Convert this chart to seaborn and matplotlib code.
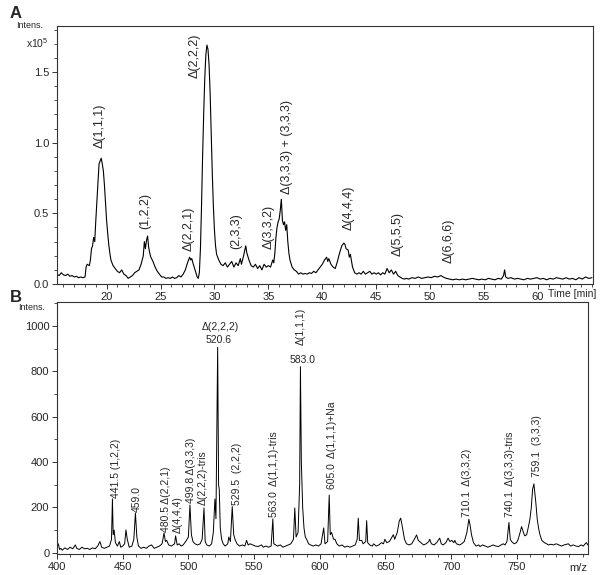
import matplotlib
matplotlib.use("Agg")
import matplotlib.pyplot as plt
from matplotlib.ticker import MultipleLocator
import numpy as np
import pandas as pd
import seaborn as sns

# Panel A: chromatogram (time in min, intensity in 1e5)
time_min = [
    15.4, 15.6, 15.8, 16.0, 16.2, 16.4, 16.6, 16.8, 17.0, 17.2, 17.4, 17.6, 17.8, 18.0,
    18.1, 18.2, 18.4, 18.5, 18.6, 18.7, 18.8, 18.9, 19.0, 19.1, 19.2, 19.3, 19.4, 19.5,
    19.6, 19.7, 19.8, 19.9, 20.0, 20.1, 20.2, 20.3, 20.4, 20.5, 20.6, 20.8, 21.0, 21.2,
    21.4, 21.6, 21.8, 22.0, 22.2, 22.4, 22.6, 22.8, 23.0, 23.2, 23.4, 23.5, 23.6, 23.7,
    23.8, 23.9, 24.0, 24.1, 24.3, 24.5, 24.7, 24.9, 25.1, 25.3, 25.5, 25.7, 25.9, 26.1,
    26.3, 26.5, 26.7, 26.9, 27.1, 27.3, 27.5, 27.7, 27.8, 27.9, 28.0, 28.2, 28.4, 28.5,
    28.6, 28.7, 28.8, 28.9, 29.0, 29.1, 29.2, 29.3, 29.4, 29.5, 29.6, 29.7, 29.8, 29.9,
    30.0, 30.1, 30.2, 30.4, 30.6, 30.8, 31.0, 31.2, 31.4, 31.6, 31.8, 32.0, 32.2, 32.4,
    32.5, 32.7, 32.9, 33.0, 33.2, 33.4, 33.6, 33.8, 34.0, 34.2, 34.4, 34.6, 34.8, 35.0,
    35.2, 35.4, 35.5, 35.6, 35.7, 35.8, 35.9, 36.0, 36.1, 36.2, 36.3, 36.4, 36.5, 36.6,
    36.7, 36.8, 36.9, 37.0, 37.2, 37.4, 37.6, 37.8, 38.0, 38.2, 38.4, 38.6, 38.8, 39.0,
    39.2, 39.4, 39.6, 39.8, 40.0, 40.2, 40.4, 40.5, 40.6, 40.8, 41.0, 41.2, 41.4, 41.6,
    41.8, 42.0, 42.1, 42.2, 42.4, 42.5, 42.6, 42.8, 43.0, 43.2, 43.4, 43.6, 43.8, 44.0,
    44.2, 44.4, 44.6, 44.8, 45.0, 45.2, 45.4, 45.6, 45.8, 46.0, 46.2, 46.4, 46.6, 46.8,
    47.0, 47.2, 47.4, 47.6, 47.8, 48.0, 48.3, 48.6, 48.9, 49.2, 49.5, 49.8, 50.1, 50.4,
    50.7, 51.0, 51.2, 51.5, 51.8, 52.1, 52.4, 52.7, 53.0, 53.3, 53.6, 53.9, 54.2, 54.5,
    54.8, 55.1, 55.4, 55.7, 56.0, 56.3, 56.6, 56.8, 56.9, 57.0, 57.2, 57.5, 57.8, 58.1,
    58.4, 58.7, 59.0, 59.3, 59.6, 59.9, 60.2, 60.5, 60.8, 61.1, 61.4, 61.7, 62.0, 62.3,
    62.6, 62.9, 63.2, 63.5, 63.8, 64.1, 64.4, 64.7, 65.0,
]
intens_a = [
    0.07, 0.06, 0.08, 0.065, 0.06, 0.07, 0.055, 0.06, 0.05, 0.055, 0.045, 0.05, 0.045, 0.05,
    0.12, 0.14, 0.13, 0.17, 0.25, 0.27, 0.33, 0.30, 0.45, 0.58, 0.72, 0.85, 0.87, 0.89,
    0.85, 0.80, 0.70, 0.58, 0.45, 0.36, 0.28, 0.22, 0.17, 0.15, 0.13, 0.11, 0.09, 0.08,
    0.10, 0.07, 0.06, 0.04, 0.05, 0.06, 0.08, 0.09, 0.10, 0.14, 0.20, 0.30, 0.25, 0.31,
    0.34, 0.26, 0.22, 0.19, 0.16, 0.12, 0.09, 0.07, 0.05, 0.05, 0.04, 0.045, 0.04, 0.05,
    0.04, 0.045, 0.06, 0.05, 0.07, 0.10, 0.15, 0.19, 0.17, 0.18, 0.15, 0.10, 0.05, 0.04,
    0.08, 0.25, 0.55, 0.90, 1.20, 1.45, 1.62, 1.69, 1.66, 1.55, 1.35, 1.05, 0.78, 0.55,
    0.38, 0.27, 0.21, 0.17, 0.14, 0.13, 0.15, 0.12, 0.14, 0.16, 0.12, 0.15, 0.13, 0.18,
    0.14, 0.20, 0.27, 0.22, 0.17, 0.13, 0.12, 0.14, 0.11, 0.13, 0.10, 0.14, 0.12, 0.13,
    0.12, 0.17, 0.15, 0.22, 0.33, 0.40, 0.44, 0.46, 0.52, 0.60, 0.45, 0.42, 0.44, 0.38,
    0.42, 0.30, 0.22, 0.17, 0.12, 0.10, 0.09, 0.07, 0.08, 0.07, 0.075, 0.07, 0.08, 0.075,
    0.09, 0.08, 0.10, 0.12, 0.14, 0.17, 0.19, 0.16, 0.18, 0.14, 0.12, 0.11, 0.16, 0.22,
    0.27, 0.29, 0.28, 0.25, 0.24, 0.19, 0.21, 0.12, 0.08, 0.07, 0.08, 0.07, 0.09, 0.07,
    0.08, 0.09, 0.07, 0.08, 0.07, 0.08, 0.065, 0.08, 0.07, 0.11, 0.08, 0.10, 0.07, 0.09,
    0.06, 0.05, 0.04, 0.035, 0.04, 0.035, 0.045, 0.04, 0.05, 0.04, 0.045, 0.05, 0.045, 0.055,
    0.05, 0.06, 0.05, 0.04, 0.035, 0.03, 0.035, 0.03, 0.035, 0.03, 0.035, 0.04, 0.035, 0.03,
    0.035, 0.03, 0.04, 0.035, 0.03, 0.04, 0.035, 0.06, 0.10, 0.05, 0.04, 0.045, 0.035, 0.04,
    0.035, 0.03, 0.04, 0.035, 0.04, 0.045, 0.035, 0.04, 0.03, 0.04, 0.035, 0.045, 0.04, 0.035,
    0.045, 0.035, 0.04, 0.03, 0.045, 0.035, 0.05, 0.04, 0.045,
]
labels_a = ["Δ(1,1,1)", "(1,2,2)", "Δ(2,2,1)", "Δ(2,2,2)", "(2,3,3)", "Δ(3,3,2)",
            "Δ(3,3,3) + (3,3,3)", "Δ(4,4,4)", "Δ(5,5,5)", "Δ(6,6,6)"]
label_x_a = [19.4, 23.6, 27.65, 28.2, 32.0, 35.0, 36.7, 42.4, 47.0, 51.7]
label_y_a = [0.96, 0.39, 0.235, 1.46, 0.25, 0.25, 0.64, 0.38, 0.20, 0.15]

# Panel B: mass spectrum
mz = [
    400, 401, 402, 403, 404, 406, 408, 410, 412, 414, 415, 417, 419, 421, 423, 425, 427, 429,
    431, 432.7, 434, 436, 438, 440, 441.5, 442.2, 442.8, 443.5, 444.5, 446, 447.5, 448.5, 450,
    451.5, 452.5, 453.5, 455, 457, 458.5, 459.7, 460.8, 462, 464, 466, 468, 470, 472, 474, 476,
    478, 480, 481.5, 482.5, 483.5, 485, 487, 489.5, 490.3, 491.5, 493, 494.5, 496, 498, 500,
    501.2, 502.3, 503.5, 505, 507, 509, 510.5, 511.9, 512.8, 514, 516, 517.7, 519, 520.2, 521,
    522.3, 523, 523.5, 524.3, 525.3, 526.5, 528, 530, 530.8, 532, 533.4, 534.5, 535.5, 537, 539,
    541, 543, 544.3, 545.5, 547, 549, 551, 553, 555.7, 557, 559, 561, 563, 564.3, 565, 566.5,
    568, 570, 572, 574, 576, 578, 580, 581, 582, 583.5, 584.7, 585.3, 586, 587, 588, 589, 590,
    591.5, 593, 595, 597, 599, 601, 603, 604, 606, 607.2, 608, 609, 610.5, 611.6, 613, 615, 617,
    619, 621, 623, 625, 627, 628.5, 629.3, 630.2, 632, 633, 635, 635.7, 636.5, 638, 640, 641,
    643, 645, 647, 648.5, 649.6, 651, 653, 655, 656, 657, 659, 660.5, 661.6, 663, 664.5, 666,
    668, 670, 672, 673.7, 675, 677, 679, 681, 683, 683.7, 685, 687, 689, 691.3, 692.5, 694, 696,
    697.7, 699, 700.5, 702, 702.8, 704, 706.6, 708, 710, 712, 713.5, 714.5, 715.5, 717, 719, 721,
    722, 724, 726, 728, 730, 732, 734, 736, 738, 739.7, 741, 742.5, 744, 745, 746, 748, 749.8,
    751, 752.5, 753.6, 755, 756, 757.5, 759, 760, 761, 762, 763, 763.8, 764.5, 765.5, 766.5,
    767.6, 769, 771, 772.7, 774, 776, 777.8, 780, 782, 784, 786, 788, 789.2, 791, 793, 795, 797,
    799, 800.6, 802, 803, 804,
]
intens_b = [
    25, 40, 15, 20, 12, 22, 15, 25, 18, 35, 20, 15, 25, 18, 20, 15, 22, 18,
    30, 50, 25, 20, 25, 30, 60, 238, 80, 100, 45, 30, 50, 25, 30,
    40, 101, 60, 25, 30, 60, 176, 70, 30, 20, 25, 20, 30, 35, 20, 25,
    30, 40, 88, 50, 55, 35, 30, 40, 75, 35, 40, 30, 35, 50, 70,
    211, 80, 50, 40, 35, 40, 60, 198, 50, 35, 30, 40, 90, 237, 150,
    905, 300, 280, 110, 60, 40, 30, 40, 70, 50, 204, 80, 60, 40, 30,
    35, 30, 55, 35, 40, 35, 30, 28, 35, 25, 30, 25, 30, 150, 40, 35,
    30, 35, 25, 30, 35, 40, 60, 198, 70, 90, 300, 820, 400, 200, 110, 70, 60,
    40, 35, 30, 35, 30, 40, 110, 40, 50, 255, 80, 90, 60, 60, 40, 30, 35,
    25, 30, 25, 30, 35, 60, 153, 55, 55, 40, 50, 142, 45, 35, 30, 40,
    30, 35, 45, 40, 60, 45, 50, 70, 80, 60, 90, 140, 153, 110, 60, 40,
    35, 40, 60, 79, 55, 45, 35, 40, 50, 60, 40, 35, 45, 65, 40, 35, 45,
    65, 50, 55, 45, 55, 40, 35, 40, 50, 90, 148, 120, 80, 45, 30, 35,
    28, 35, 30, 25, 30, 35, 30, 28, 35, 40, 35, 50, 134, 60, 50, 40, 45,
    60, 90, 116, 90, 75, 80, 120, 150, 200, 280, 304, 260, 219, 150, 110,
    80, 55, 45, 40, 35, 38, 35, 40, 35, 30, 35, 38, 40, 30, 35, 30, 28,
    35, 30, 40, 45, 35,
]
labels_b = ["441.5 (1,2,2)", "459.0", "480.5 Δ(2,2,1)", "Δ(4,4,4)", "499.8 Δ(3,3,3)",
            "Δ(2,2,2)-tris", "529.5  (2,2,2)", "563.0  Δ(1,1,1)-tris", "Δ(1,1,1)",
            "605.0  Δ(1,1,1)+Na", "710.1  Δ(3,3,2)", "740.1  Δ(3,3,3)-tris", "759.1  (3,3,3)"]
label_x_b = [445, 461, 482.7, 492.3, 502, 511.3, 536.7, 565, 585.5, 609, 711.7, 744.7, 765]
label_y_b = [240, 180, 92, 87, 219, 211, 211, 160, 915, 282, 160, 160, 336]

sns.set_theme(style="white")
plt.rcParams["font.family"] = ["Liberation Sans", "DejaVu Sans"]
plt.rcParams["mathtext.fontset"] = "custom"
plt.rcParams["mathtext.rm"] = "Liberation Sans"

fig = plt.figure(figsize=(6.01, 5.75), dpi=100)
ax1 = fig.add_axes([0.0948, 0.506, 0.892, 0.449])
ax2 = fig.add_axes([0.0948, 0.0365, 0.8832, 0.4383])

df_a = pd.DataFrame({"t": time_min, "i": intens_a})
df_b = pd.DataFrame({"mz": mz, "i": intens_b})

sns.lineplot(data=df_a, x="t", y="i", ax=ax1, color="black", linewidth=0.8,
             sort=False, estimator=None)
sns.lineplot(data=df_b, x="mz", y="i", ax=ax2, color="black", linewidth=0.7,
             sort=False, estimator=None)

for ax in (ax1, ax2):
    ax.set_xlabel("")
    ax.set_ylabel("")
    for sp in ax.spines.values():
        sp.set_color("#333333")
        sp.set_linewidth(0.8)
        sp.set_visible(True)
    ax.tick_params(axis="both", which="both", direction="out", bottom=True, left=True,
                   color="#333333", labelsize=8, pad=2)
    ax.tick_params(which="major", length=3.5, width=0.7)
    ax.tick_params(which="minor", length=2, width=0.6)

ax1.set_xlim(15.4, 65.1)
ax1.set_ylim(0, 1.826)
ax1.xaxis.set_minor_locator(MultipleLocator(1))
ax1.yaxis.set_minor_locator(MultipleLocator(0.1))
ax1.set_xticks([20, 25, 30, 35, 40, 45, 50, 55, 60])
ax1.set_yticks([0.0, 0.5, 1.0, 1.5])
ax1.yaxis.set_major_formatter(matplotlib.ticker.FormatStrFormatter("%.1f"))

ax2.set_xlim(400, 804)
ax2.set_ylim(-5, 1105)
ax2.xaxis.set_minor_locator(MultipleLocator(10))
ax2.set_xticks([400, 450, 500, 550, 600, 650, 700, 750])
ax2.yaxis.set_minor_locator(MultipleLocator(100))
ax2.set_yticks([0, 200, 400, 600, 800, 1000])

for lab, x, y in zip(labels_a, label_x_a, label_y_a):
    ax1.text(x, y, lab, rotation=90, ha="center", va="bottom", fontsize=9)
for lab, x, y in zip(labels_b, label_x_b, label_y_b):
    ax2.text(x, y, lab, rotation=90, ha="center", va="bottom", fontsize=7.5)
ax2.text(524.5, 997, "Δ(2,2,2)", ha="center", va="center", fontsize=7.5)
ax2.text(523, 938, "520.6", ha="center", va="center", fontsize=7.5)
ax2.text(587, 850, "583.0", ha="center", va="center", fontsize=7.5)

# axis annotations
fig.text(10 / 601, 1 - 13 / 575, "A", fontsize=12, fontweight="bold", va="center", ha="left")
fig.text(10 / 601, 1 - 297 / 575, "B", fontsize=12, fontweight="bold", va="center", ha="left")
fig.text(30 / 601, 1 - 25 / 575, "Intens.", fontsize=6.5, va="center", ha="center")
fig.text(37 / 601, 1 - 43 / 575, "x10$^5$", fontsize=7.5, va="center", ha="center")
fig.text(32 / 601, 1 - 307 / 575, "Intens.", fontsize=6.5, va="center", ha="center")
fig.text(548 / 601, 1 - 294 / 575, "Time [min]", fontsize=7.5, va="center", ha="left")
fig.text(578 / 601, 1 - 568 / 575, "m/z", fontsize=8, va="center", ha="center")

fig.savefig("out.png", dpi=100)
